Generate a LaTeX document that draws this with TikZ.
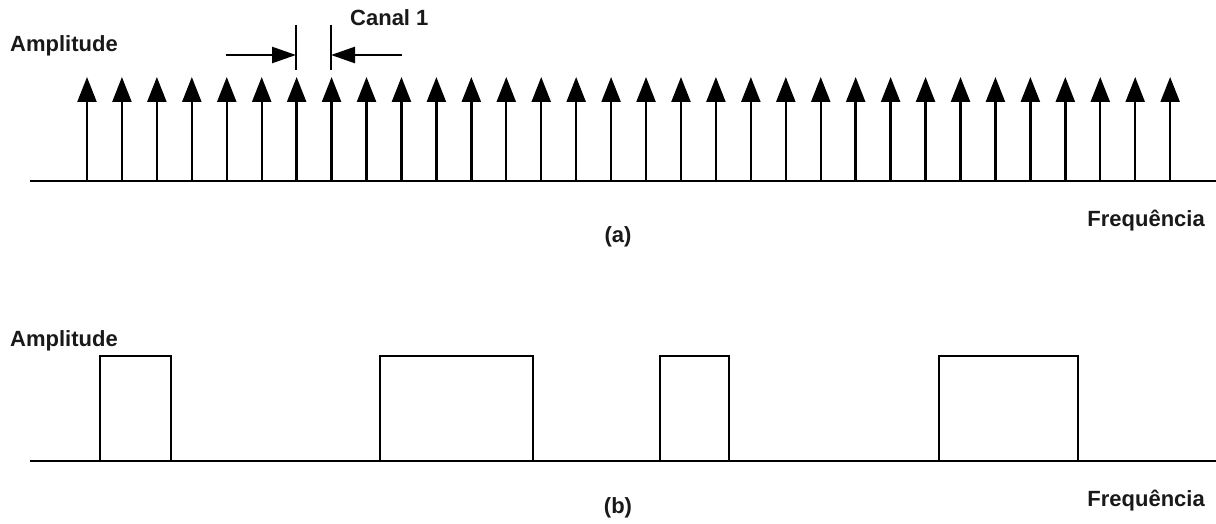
\documentclass[tikz,border=0pt]{standalone}
\usepackage{fontspec}
\setmainfont{Liberation Sans}
\usetikzlibrary{arrows.meta}
\begin{document}
\begin{tikzpicture}[x=1pt,y=-1pt,
  lbl/.style={font=\fontsize{22}{26}\selectfont\bfseries, inner sep=0pt, text=black!90},
  axisline/.style={line width=2.4pt},
  spike/.style={line width=2.4pt, -{Triangle[length=25pt,width=19pt]}},
  marker/.style={line width=2.4pt},
  pointer/.style={line width=2.4pt, -{Triangle[length=24pt,width=16pt]}},
  band/.style={line width=2.4pt, line join=miter},
  ]
\useasboundingbox (0,0) rectangle (1216,524);

% ---------- (a) line spectrum ----------
\node[lbl, anchor=base west] (ampA) at (10,52) {Amplitude};
\node[lbl, anchor=base west] (canal) at (350,26) {Canal 1};
\node[lbl, anchor=base east] (freqA) at (1205,226) {Frequência};
\node[lbl, anchor=base] (capA) at (618,242) {(a)};

\coordinate (axA0) at (30,181);
\coordinate (axA1) at (1216,181);
\draw[axisline] (axA0) -- (axA1);

\foreach \i in {0,...,31} {
  \coordinate (sb\i) at ({87+34.94*\i},181);
  \coordinate (st\i) at ({87+34.94*\i},77);
  \draw[spike] (sb\i) -- (st\i);
}

% channel width markers
\coordinate (mL0) at (296,25);
\coordinate (mL1) at (296,70);
\coordinate (mR0) at (331,25);
\coordinate (mR1) at (331,70);
\draw[marker] (mL0) -- (mL1);
\draw[marker] (mR0) -- (mR1);
\coordinate (pL) at (226,55);
\coordinate (pLt) at (296,55);
\coordinate (pR) at (402,55);
\coordinate (pRt) at (331,55);
\draw[pointer] (pL) -- (pLt);
\draw[pointer] (pR) -- (pRt);

% ---------- (b) band spectrum ----------
\node[lbl, anchor=base west] (ampB) at (10,346) {Amplitude};
\node[lbl, anchor=base east] (freqB) at (1205,506) {Frequência};
\node[lbl, anchor=base] (capB) at (618,513) {(b)};

\coordinate (axB0) at (30,461);
\coordinate (axB1) at (1216,461);
\draw[axisline] (axB0) -- (axB1);

\foreach \a/\b [count=\k] in {100/171, 380/533, 660/729, 939/1078} {
  \coordinate (bl\k) at (\a,461);
  \coordinate (br\k) at (\b,461);
  \draw[band] (bl\k) -- (\a,356) -- (\b,356) -- (br\k);
}
\end{tikzpicture}
\end{document}
